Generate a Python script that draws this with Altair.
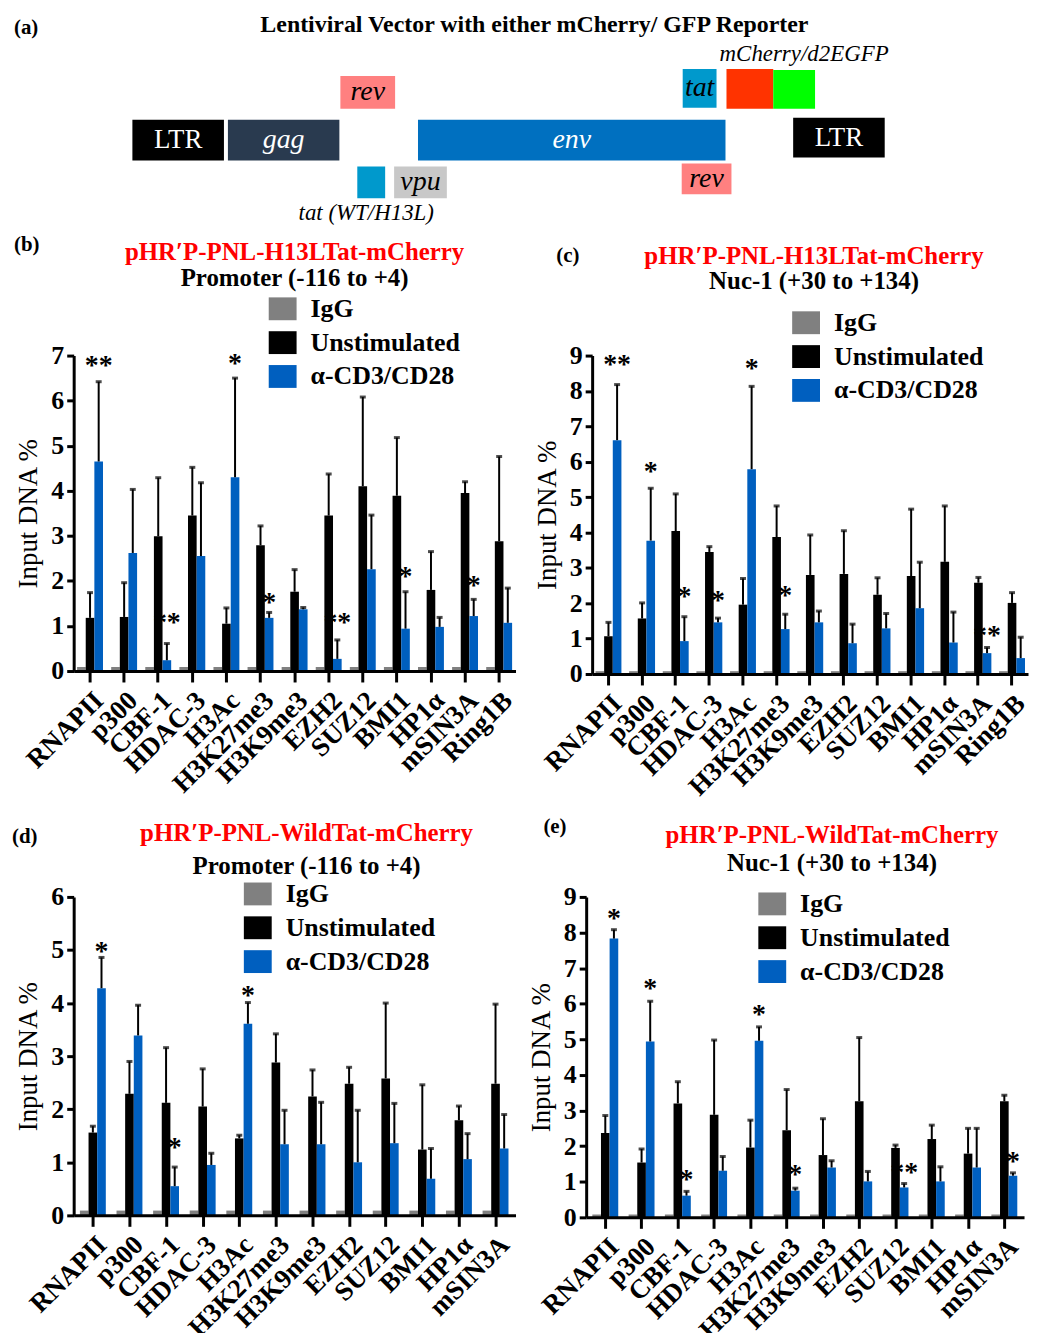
import altair as alt
import pandas as pd

FONT = "Liberation Serif"
GROUPS = ["IgG", "Unstimulated", "α-CD3/CD28"]
COLORS = ["#808080", "#000000", "#005FBF"]

T13 = ["RNAPII", "p300", "CBF-1", "HDAC-3", "H3Ac", "H3K27me3", "H3K9me3",
       "EZH2", "SUZ12", "BMI1", "HP1α", "mSIN3A", "Ring1B"]
T12 = T13[:12]

# ---- panel (b)
b_igg = [0.09, 0.09, 0.09, 0.09, 0.09, 0.09, 0.09, 0.09, 0.09, 0.09, 0.09, 0.09, 0.09]
b_un = [1.18, 1.20, 2.99, 3.45, 1.05, 2.79, 1.76, 3.45, 4.10, 3.89, 1.80, 3.95, 2.88]
b_un_err = [1.74, 1.96, 4.29, 4.52, 1.40, 3.22, 2.25, 4.37, 6.08, 5.18, 2.65, 4.20, 4.76]
b_st = [4.65, 2.62, 0.24, 2.55, 4.30, 1.18, 1.37, 0.27, 2.26, 0.94, 0.98, 1.22, 1.07]
b_st_err = [6.42, 4.03, 0.61, 4.18, 6.50, 1.30, 1.41, 0.69, 3.46, 1.76, 1.19, 1.59, 1.84]
b_star_t = ["RNAPII", "CBF-1", "H3Ac", "H3K27me3", "EZH2", "BMI1", "mSIN3A"]
b_star = ["**", "**", "*", "*", "**", "*", "*"]
b_star_y = [6.91, 1.20, 6.95, 1.64, 1.20, 2.21, 2.02]

# ---- panel (c)
c_igg = [0.08, 0.08, 0.08, 0.08, 0.08, 0.08, 0.08, 0.08, 0.08, 0.08, 0.08, 0.08, 0.08]
c_un = [1.07, 1.57, 4.04, 3.45, 1.96, 3.87, 2.80, 2.83, 2.24, 2.77, 3.17, 2.58, 2.01]
c_un_err = [1.46, 2.01, 5.09, 3.60, 2.70, 4.75, 3.93, 4.05, 2.72, 4.66, 4.75, 2.73, 2.30]
c_st = [6.61, 3.77, 0.93, 1.46, 5.79, 1.27, 1.46, 0.87, 1.29, 1.86, 0.89, 0.59, 0.45]
c_st_err = [8.18, 5.25, 1.62, 1.58, 8.13, 1.69, 1.78, 1.41, 1.71, 3.16, 1.75, 0.75, 1.04]
c_star_t = ["RNAPII", "p300", "CBF-1", "HDAC-3", "H3Ac", "H3K27me3", "mSIN3A"]
c_star = ["**", "*", "*", "*", "*", "*", "**"]
c_star_y = [8.91, 5.89, 2.34, 2.22, 8.80, 2.37, 1.25]

# ---- panel (d)
d_igg = [0.09, 0.09, 0.09, 0.09, 0.09, 0.09, 0.09, 0.09, 0.09, 0.09, 0.09, 0.09]
d_un = [1.56, 2.29, 2.12, 2.05, 1.45, 2.88, 2.24, 2.48, 2.58, 1.24, 1.79, 2.48]
d_un_err = [1.68, 2.90, 3.16, 2.76, 1.51, 3.42, 2.74, 2.79, 4.00, 2.46, 2.06, 3.98]
d_st = [4.28, 3.39, 0.55, 0.95, 3.61, 1.34, 1.34, 1.00, 1.36, 0.69, 1.06, 1.26]
d_st_err = [4.86, 3.96, 0.91, 1.17, 4.01, 1.98, 2.13, 1.98, 2.11, 1.26, 1.54, 1.90]
d_star_t = ["RNAPII", "CBF-1", "H3Ac"]
d_star = ["*", "*", "*"]
d_star_y = [5.08, 1.39, 4.24]

# ---- panel (e)
e_igg = [0.08, 0.08, 0.08, 0.08, 0.08, 0.08, 0.08, 0.08, 0.08, 0.08, 0.08, 0.08]
e_un = [2.37, 1.54, 3.20, 2.88, 1.96, 2.45, 1.75, 3.26, 1.95, 2.20, 1.79, 3.26]
e_un_err = [2.86, 1.92, 3.81, 4.98, 2.73, 3.59, 2.77, 5.05, 2.03, 2.59, 2.50, 3.43]
e_st = [7.83, 4.94, 0.61, 1.31, 4.96, 0.75, 1.40, 1.01, 0.84, 1.01, 1.40, 1.17]
e_st_err = [8.08, 6.07, 0.73, 1.71, 5.35, 0.82, 1.59, 1.29, 0.95, 1.42, 2.50, 1.25]
e_star_t = ["RNAPII", "p300", "CBF-1", "H3Ac", "H3K27me3", "SUZ12", "mSIN3A"]
e_star = ["*", "*", "*", "*", "*", "**", "*"]
e_star_y = [8.55, 6.59, 1.22, 5.84, 1.36, 1.41, 1.73]

# ---- panel (a) diagram (positions in figure pixel units)
BOX_NAME = ["LTR", "gag", "rev", "tat_lo", "vpu", "env", "rev_lo", "tat", "mCherry", "d2EGFP", "LTR_R"]
BOX_X0 = [131, 227, 340, 357, 394, 418, 683, 684, 728, 775, 795]
BOX_X1 = [223, 339, 395, 385, 447, 727, 733, 718, 775, 817, 887]
BOX_Y0 = [117, 117, 73, 164, 164, 117, 161, 66, 66, 67, 115]
BOX_Y1 = [158, 158, 106, 196, 196, 158, 192, 105, 106, 106, 155]
BOX_COLOR = ["#000000", "#293a4f", "#ff8080", "#0099cc", "#c8c8c8", "#0070c0",
             "#ff8080", "#0099cc", "#ff3300", "#00ff00", "#000000"]
BOX_LABEL = ["LTR", "gag", "rev", "", "vpu", "env", "rev", "tat", "", "", "LTR"]
BOX_LABEL_COLOR = ["white", "white", "black", "black", "black", "white",
                   "black", "black", "black", "black", "white"]
BOX_ITALIC = [False, True, True, True, True, True, True, True, True, True, False]

A_TITLE = "Lentiviral  Vector with either mCherry/ GFP Reporter"
A_TITLE_XY = (535, 22)
A_LABEL = "(a)"
A_LABEL_XY = (12, 25)
NOTES = ["mCherry/d2EGFP", "tat (WT/H13L)"]
NOTES_X = [806, 366]
NOTES_Y = [51, 211]

DX0 = 72  # diagram plot origin (aligned with panel b plot)


def diagram():
    bdf = pd.DataFrame(dict(name=BOX_NAME, x0=BOX_X0, x1=BOX_X1, y0=BOX_Y0, y1=BOX_Y1,
                            color=BOX_COLOR, label=BOX_LABEL, lcolor=BOX_LABEL_COLOR,
                            italic=BOX_ITALIC))
    xs = alt.Scale(domain=[DX0, 1022], nice=False, zero=False)
    ys = alt.Scale(domain=[8, 223], nice=False, zero=False, reverse=True)
    rect = alt.Chart(bdf).mark_rect().encode(
        x=alt.X("x0:Q", scale=xs, axis=None), x2="x1:Q",
        y=alt.Y("y0:Q", scale=ys, axis=None), y2="y1:Q",
        color=alt.Color("color:N", scale=None))
    lab_base = alt.Chart(bdf).transform_calculate(
        cx="(datum.x0 + datum.x1) / 2", cy="(datum.y0 + datum.y1) / 2")
    enc = dict(x=alt.X("cx:Q", scale=xs, axis=None), y=alt.Y("cy:Q", scale=ys, axis=None),
               text="label:N", color=alt.Color("lcolor:N", scale=None))
    lab_n = lab_base.transform_filter("!datum.italic").mark_text(
        font=FONT, fontSize=27, baseline="middle", align="center").encode(**enc)
    lab_i = lab_base.transform_filter("datum.italic").mark_text(
        font=FONT, fontSize=28, fontStyle="italic", baseline="middle", align="center").encode(**enc)
    ndf = pd.DataFrame(dict(t=NOTES, x=NOTES_X, y=NOTES_Y))
    notes = alt.Chart(ndf).mark_text(font=FONT, fontSize=23, fontStyle="italic",
                                     baseline="middle", align="center", color="black").encode(
        x=alt.X("x:Q", scale=xs, axis=None), y=alt.Y("y:Q", scale=ys, axis=None), text="t:N")
    tdf = pd.DataFrame(dict(t=[A_TITLE], x=[A_TITLE_XY[0]], y=[A_TITLE_XY[1]]))
    title = alt.Chart(tdf).mark_text(font=FONT, fontSize=24, fontWeight="bold",
                                     baseline="middle", align="center", color="black").encode(
        x=alt.X("x:Q", scale=xs, axis=None), y=alt.Y("y:Q", scale=ys, axis=None), text="t:N")
    ldf = pd.DataFrame(dict(t=[A_LABEL], x=[A_LABEL_XY[0]], y=[A_LABEL_XY[1]]))
    lab = alt.Chart(ldf).mark_text(font=FONT, fontSize=21, fontWeight="bold",
                                   baseline="middle", align="left", color="black").encode(
        x=alt.X("x:Q", scale=xs, axis=None), y=alt.Y("y:Q", scale=ys, axis=None), text="t:N")
    return alt.layer(rect, lab_n, lab_i, notes, title, lab).properties(width=1022 - DX0, height=215)


def make_df(targets, igg, un, un_err, st, st_err):
    rows = []
    for i, t in enumerate(targets):
        rows.append(dict(target=t, group=GROUPS[0], value=igg[i], err=None))
        rows.append(dict(target=t, group=GROUPS[1], value=un[i], err=un_err[i]))
        rows.append(dict(target=t, group=GROUPS[2], value=st[i], err=st_err[i]))
    return pd.DataFrame(rows)


def panel(targets, igg, un, un_err, st, st_err, star_t, star, star_y, ymax, width, height,
          red, sub, label, lab_xy, leg_xy, t_offset, t_dx, sub_pad, pi, po):
    df = make_df(targets, igg, un, un_err, st, st_err)
    sdf = pd.DataFrame(dict(target=star_t, group=GROUPS[2], sy=star_y, star=star))
    x = alt.X("target:N", sort=targets,
              scale=alt.Scale(domain=targets, paddingInner=pi, paddingOuter=po),
              axis=alt.Axis(title=None, labelAngle=-45, labelAlign="right", labelBaseline="top",
                            labelFont=FONT, labelFontSize=27, labelFontWeight="bold",
                            labelColor="black", labelPadding=5, tickSize=11, tickWidth=3,
                            tickColor="black", domainWidth=3, domainColor="black",
                            labelOverlap=False, zindex=1))
    xo = alt.XOffset("group:N", sort=GROUPS, scale=alt.Scale(domain=GROUPS))
    ysc = alt.Scale(domain=[0, ymax], nice=False)
    yax = alt.Axis(values=list(range(0, ymax + 1)), title="Input DNA %",
                   titleFont=FONT, titleFontSize=27, titleFontWeight="normal",
                   titleColor="black", titlePadding=8,
                   labelFont=FONT, labelFontSize=26, labelFontWeight="bold",
                   labelColor="black", labelPadding=3, tickSize=7, tickWidth=3,
                   tickColor="black", domainWidth=3, domainColor="black",
                   grid=False, zindex=1)
    color = alt.Color("group:N", sort=GROUPS, scale=alt.Scale(domain=GROUPS, range=COLORS),
                      legend=alt.Legend(title=None, orient="none", legendX=leg_xy[0],
                                        legendY=leg_xy[1], labelFont=FONT, labelFontSize=26,
                                        labelFontWeight="bold", labelColor="black",
                                        symbolType="M-1,-0.82H1V0.82H-1Z", symbolSize=784,
                                        symbolStrokeWidth=0, symbolOpacity=1, rowPadding=7,
                                        labelOffset=14, padding=0, labelLimit=400))
    bars = alt.Chart(df).mark_bar().encode(
        x=x, xOffset=xo, y=alt.Y("value:Q", scale=ysc, axis=yax), color=color)
    errs = alt.Chart(df).transform_filter("isValid(datum.err)")
    rules = errs.mark_rule(color="black", strokeWidth=2).encode(
        x=x, xOffset=xo, y=alt.Y("value:Q", scale=ysc, axis=yax), y2="err:Q")
    caps = errs.mark_tick(color="black", thickness=3, size=6).encode(
        x=x, xOffset=xo, y=alt.Y("err:Q", scale=ysc, axis=yax))
    stars = alt.Chart(sdf).mark_text(font=FONT, fontSize=28, fontWeight="bold",
                                     baseline="middle", dy=6, color="black").encode(
        x=x, xOffset=xo, y=alt.Y("sy:Q", scale=ysc, axis=yax), text="star:N")
    lab = alt.Chart(pd.DataFrame({"t": [label]})).mark_text(
        font=FONT, fontSize=21, fontWeight="bold", align="left", baseline="top",
        color="black", x=lab_xy[0], y=lab_xy[1]).encode(text="t:N")
    title = alt.TitleParams(text=red, subtitle=sub, color="#ff0000", subtitleColor="black",
                            font=FONT, subtitleFont=FONT, fontSize=25, subtitleFontSize=25,
                            fontWeight="bold", subtitleFontWeight="bold", anchor="middle",
                            frame="group", offset=t_offset, dx=t_dx, subtitlePadding=sub_pad)
    return alt.layer(bars, rules, caps, stars, lab).properties(width=width, height=height,
                                                               title=title)


pb = panel(T13, b_igg, b_un, b_un_err, b_st, b_st_err, b_star_t, b_star, b_star_y, 7, 444, 317,
           "pHR′P-PNL-H13LTat-mCherry", "Promoter (-116 to +4)", "(b)", (-60, -122),
           (196, -61), -57, 0, 1, 0.24, 0.1)
pc = panel(T13, c_igg, c_un, c_un_err, c_st, c_st_err, c_star_t, c_star, c_star_y, 9, 438, 320,
           "pHR′P-PNL-H13LTat-mCherry", "Nuc-1 (+30 to +134)", "(c)", (-36, -111),
           (201, -47), -49, 4, 0, 0.24, 0.1)
pd_ = panel(T12, d_igg, d_un, d_un_err, d_st, d_st_err, d_star_t, d_star, d_star_y, 6, 444, 320,
            "pHR′P-PNL-WildTat-mCherry", "Promoter (-116 to +4)", "(d)", (-62, -71),
            (171, -17), -53, 12, 8, 0.27, 0.17)
pe = panel(T12, e_igg, e_un, e_un_err, e_st, e_st_err, e_star_t, e_star, e_star_y, 9, 440, 322,
           "pHR′P-PNL-WildTat-mCherry", "Nuc-1 (+30 to +134)", "(e)", (-43, -81),
           (173, -7), -60, 27, 3, 0.27, 0.17)

row1 = alt.hconcat(pb, pc, spacing=16).resolve_scale(color="independent")
row2 = alt.hconcat(pd_, pe, spacing=12).resolve_scale(color="independent")
rows = alt.vconcat(row1, row2, spacing=16).resolve_scale(color="independent")
chart = alt.vconcat(diagram(), rows, spacing=9).resolve_scale(color="independent").properties(
    padding={"left": 4, "top": 0, "right": 0, "bottom": 0}
).configure(font=FONT).configure_view(stroke=None)

chart.save("out.html", embed_options={"renderer": "svg", "actions": False})
